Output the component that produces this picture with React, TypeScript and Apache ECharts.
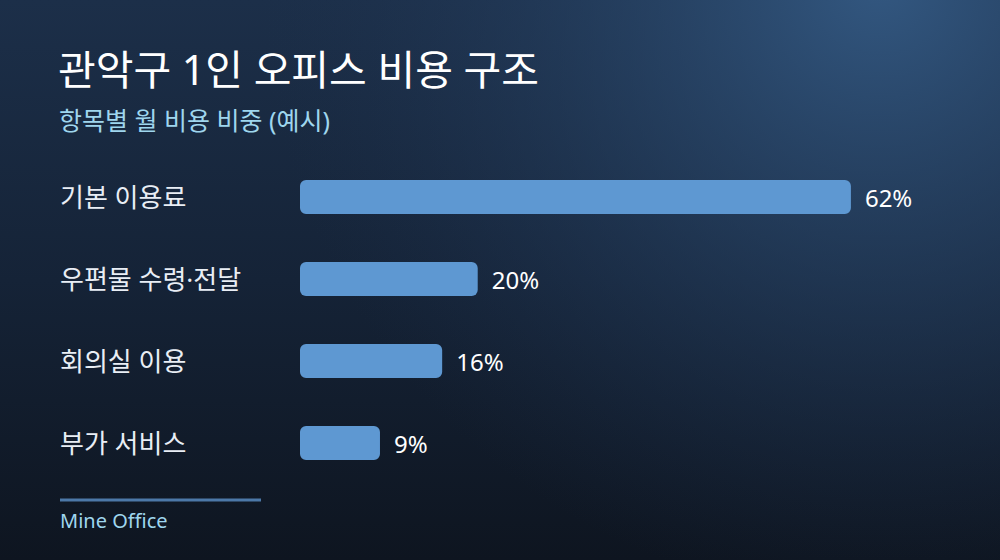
import { useEffect, useRef } from "react";
import * as echarts from "echarts";

const categories = ["기본 이용료", "우편물 수령·전달", "회의실 이용", "부가 서비스"];
const shares = [62, 20, 16, 9];
const titleText = "관악구 1인 오피스 비용 구조";
const subtitleText = "항목별 월 비용 비중 (예시)";
const footerText = "Mine Office";

const FONT = "'Noto Sans', 'Noto Sans CJK KR', sans-serif";

export default function App() {
  const ref = useRef<HTMLDivElement>(null);

  useEffect(() => {
    document.body.style.margin = "0";
    if (!ref.current) return;
    const chart = echarts.init(ref.current, undefined, { renderer: "svg" });
    chart.setOption({
      animation: false,
      backgroundColor: {
        type: "linear",
        x: 0,
        y: 0,
        x2: 0,
        y2: 1,
        colorStops: [
          { offset: 0, color: "#1c2f49" },
          { offset: 0.5, color: "#152337" },
          { offset: 1, color: "#0e1520" },
        ],
      },
      graphic: [
        {
          type: "rect",
          silent: true,
          z: -10,
          shape: { x: 0, y: 0, width: 1000, height: 560 },
          style: {
            fill: {
              type: "radial",
              x: 880,
              y: -20,
              r: 620,
              global: true,
              colorStops: [
                { offset: 0, color: "rgba(52,90,132,0.95)" },
                { offset: 0.45, color: "rgba(42,72,108,0.55)" },
                { offset: 1, color: "rgba(30,50,80,0)" },
              ],
            },
          },
        },
        {
          type: "text",
          left: 58,
          top: 48,
          style: {
            text: titleText,
            fill: "#ffffff",
            font: `41px ${FONT}`,
          },
        },
        {
          type: "text",
          left: 59,
          top: 107,
          style: {
            text: subtitleText,
            fill: "#9fd6ee",
            font: `25px ${FONT}`,
          },
        },
        {
          type: "line",
          shape: { x1: 60, y1: 500, x2: 261, y2: 500 },
          style: { stroke: "#4c78a8", lineWidth: 3 },
        },
        {
          type: "text",
          left: 60,
          top: 510,
          style: {
            text: footerText,
            fill: "#9fd6ee",
            font: `20px ${FONT}`,
          },
        },
      ],
      grid: { left: 300, top: 156, width: 622, height: 328 },
      xAxis: {
        type: "value",
        min: 0,
        max: 70,
        show: false,
      },
      yAxis: {
        type: "category",
        data: categories,
        inverse: true,
        axisLine: { show: false },
        axisTick: { show: false },
        splitLine: { show: false },
        axisLabel: {
          align: "left",
          margin: 240,
          color: "#e9eef5",
          fontSize: 26,
          fontFamily: FONT,
          verticalAlign: "middle",
          padding: [0, 0, 4, 0],
        },
      },
      series: [
        {
          type: "bar",
          data: shares,
          barWidth: 34,
          itemStyle: { color: "#5e98d2", borderRadius: 6 },
          label: {
            show: true,
            position: "right",
            distance: 14,
            formatter: "{c}%",
            color: "#ffffff",
            fontSize: 24,
            fontFamily: FONT,
          },
        },
      ],
    });
    return () => chart.dispose();
  }, []);

  return <div ref={ref} style={{ width: 1000, height: 560 }} />;
}
